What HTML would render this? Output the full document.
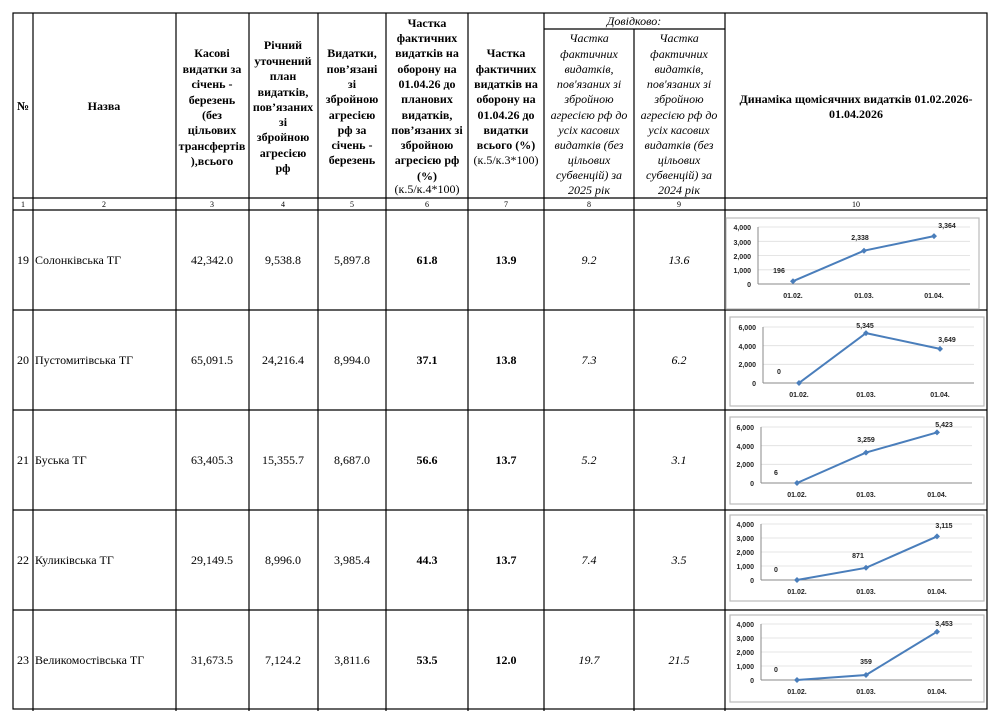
<!DOCTYPE html>
<html><head><meta charset="utf-8"><style>
html,body{margin:0;padding:0;background:#fff;width:998px;height:722px;overflow:hidden}
svg text{font-family:"Liberation Serif",serif;fill:#000}
.h{font-size:12px;font-weight:bold;text-anchor:middle}
.hn{font-size:12px;text-anchor:middle}
.hi{font-size:12px;font-style:italic;text-anchor:middle}
.n{font-size:8px;text-anchor:middle}
.d{font-size:12px;text-anchor:middle}
.db{font-size:12px;text-anchor:middle;font-weight:bold}
.di{font-size:12px;text-anchor:middle;font-style:italic}
.c text{font-family:"Liberation Sans",sans-serif;font-size:7px;font-weight:bold;fill:#222}
.c .ax{text-anchor:end}
.c .cx{text-anchor:middle}
</style></head><body>
<svg width="998" height="722" xmlns="http://www.w3.org/2000/svg">
<g stroke="#000" stroke-width="1.2" fill="none">
<rect x="13" y="13" width="974" height="696"/>
<line x1="33" y1="13" x2="33" y2="711"/><line x1="176" y1="13" x2="176" y2="711"/><line x1="249" y1="13" x2="249" y2="711"/><line x1="318" y1="13" x2="318" y2="711"/><line x1="386" y1="13" x2="386" y2="711"/><line x1="468" y1="13" x2="468" y2="711"/><line x1="544" y1="13" x2="544" y2="711"/><line x1="634" y1="29" x2="634" y2="711"/><line x1="725" y1="13" x2="725" y2="711"/>
<line x1="544" y1="29" x2="725" y2="29"/>
<line x1="13" y1="198" x2="987" y2="198"/><line x1="13" y1="210" x2="987" y2="210"/>
<line x1="13" y1="310" x2="987" y2="310"/><line x1="13" y1="410" x2="987" y2="410"/><line x1="13" y1="510" x2="987" y2="510"/><line x1="13" y1="610" x2="987" y2="610"/>
</g>
<text class="h" x="23" y="110">№</text><text class="h" x="104" y="110">Назва</text>
<g class="h"><text x="212" y="57">Касові</text><text x="212" y="73">видатки за</text><text x="212" y="88">січень -</text><text x="212" y="104">березень</text><text x="212" y="119">(без</text><text x="212" y="134">цільових</text><text x="212" y="150">трансфертів</text><text x="212" y="165">),всього</text></g>
<g class="h"><text x="283" y="49">Річний</text><text x="283" y="65">уточнений</text><text x="283" y="80">план</text><text x="283" y="96">видатків,</text><text x="283" y="111">пов’язаних</text><text x="283" y="126">зі</text><text x="283" y="141">збройною</text><text x="283" y="157">агресією</text><text x="283" y="172">рф</text></g>
<g class="h"><text x="352" y="57">Видатки,</text><text x="352" y="73">пов’язані</text><text x="352" y="88">зі</text><text x="352" y="103">збройною</text><text x="352" y="119">агресією</text><text x="352" y="134">рф за</text><text x="352" y="149">січень -</text><text x="352" y="164">березень</text></g>
<g class="h"><text x="427" y="27">Частка</text><text x="427" y="42">фактичних</text><text x="427" y="57">видатків на</text><text x="427" y="73">оборону на</text><text x="427" y="88">01.04.26 до</text><text x="427" y="103">планових</text><text x="427" y="119">видатків,</text><text x="427" y="134">пов’язаних зі</text><text x="427" y="149">збройною</text><text x="427" y="164">агресією рф</text><text x="427" y="180">(%)</text></g>
<text class="hn" x="427" y="193">(к.5/к.4*100)</text>
<g class="h"><text x="506" y="57">Частка</text><text x="506" y="73">фактичних</text><text x="506" y="88">видатків на</text><text x="506" y="103">оборону на</text><text x="506" y="119">01.04.26 до</text><text x="506" y="134">видатки</text><text x="506" y="149">всього (%)</text></g>
<text class="hn" x="506" y="164">(к.5/к.3*100)</text>
<text class="hi" x="634" y="25">Довідково:</text>
<g class="hi"><text x="589" y="42">Частка</text><text x="589" y="58">фактичних</text><text x="589" y="73">видатків,</text><text x="589" y="88">пов'язаних зі</text><text x="589" y="103">збройною</text><text x="589" y="119">агресією рф до</text><text x="589" y="134">усіх касових</text><text x="589" y="149">видатків (без</text><text x="589" y="164">цільових</text><text x="589" y="179">субвенцій) за</text><text x="589" y="194">2025 рік</text></g>
<g class="hi"><text x="679" y="42">Частка</text><text x="679" y="58">фактичних</text><text x="679" y="73">видатків,</text><text x="679" y="88">пов'язаних зі</text><text x="679" y="103">збройною</text><text x="679" y="119">агресією рф до</text><text x="679" y="134">усіх касових</text><text x="679" y="149">видатків (без</text><text x="679" y="164">цільових</text><text x="679" y="179">субвенцій) за</text><text x="679" y="194">2024 рік</text></g>
<text class="h" x="856" y="103">Динаміка щомісячних видатків 01.02.2026-</text><text class="h" x="856" y="118">01.04.2026</text>
<g class="n"><text x="23" y="207">1</text><text x="104" y="207">2</text><text x="212" y="207">3</text><text x="283" y="207">4</text><text x="352" y="207">5</text><text x="427" y="207">6</text><text x="506" y="207">7</text><text x="589" y="207">8</text><text x="679" y="207">9</text><text x="856" y="207">10</text></g>

<g><text class="d" x="23" y="264">19</text><text x="35" y="264" style="font-size:12px">Солонківська ТГ</text><text class="d" x="212" y="264">42,342.0</text><text class="d" x="283" y="264">9,538.8</text><text class="d" x="352" y="264">5,897.8</text><text class="db" x="427" y="264">61.8</text><text class="db" x="506" y="264">13.9</text><text class="di" x="589" y="264">9.2</text><text class="di" x="679" y="264">13.6</text></g>
<g><text class="d" x="23" y="364">20</text><text x="35" y="364" style="font-size:12px">Пустомитівська ТГ</text><text class="d" x="212" y="364">65,091.5</text><text class="d" x="283" y="364">24,216.4</text><text class="d" x="352" y="364">8,994.0</text><text class="db" x="427" y="364">37.1</text><text class="db" x="506" y="364">13.8</text><text class="di" x="589" y="364">7.3</text><text class="di" x="679" y="364">6.2</text></g>
<g><text class="d" x="23" y="464">21</text><text x="35" y="464" style="font-size:12px">Буська ТГ</text><text class="d" x="212" y="464">63,405.3</text><text class="d" x="283" y="464">15,355.7</text><text class="d" x="352" y="464">8,687.0</text><text class="db" x="427" y="464">56.6</text><text class="db" x="506" y="464">13.7</text><text class="di" x="589" y="464">5.2</text><text class="di" x="679" y="464">3.1</text></g>
<g><text class="d" x="23" y="564">22</text><text x="35" y="564" style="font-size:12px">Куликівська ТГ</text><text class="d" x="212" y="564">29,149.5</text><text class="d" x="283" y="564">8,996.0</text><text class="d" x="352" y="564">3,985.4</text><text class="db" x="427" y="564">44.3</text><text class="db" x="506" y="564">13.7</text><text class="di" x="589" y="564">7.4</text><text class="di" x="679" y="564">3.5</text></g>
<g><text class="d" x="23" y="664">23</text><text x="35" y="664" style="font-size:12px">Великомостівська ТГ</text><text class="d" x="212" y="664">31,673.5</text><text class="d" x="283" y="664">7,124.2</text><text class="d" x="352" y="664">3,811.6</text><text class="db" x="427" y="664">53.5</text><text class="db" x="506" y="664">12.0</text><text class="di" x="589" y="664">19.7</text><text class="di" x="679" y="664">21.5</text></g>

<!-- Chart 1 -->
<g class="c">
<rect x="726" y="218" width="253" height="91" fill="none" stroke="#bbb" stroke-width="1.2"/>
<g stroke="#ddd" stroke-width="0.8"><line x1="758" y1="227" x2="970" y2="227"/><line x1="758" y1="241.3" x2="970" y2="241.3"/><line x1="758" y1="255.5" x2="970" y2="255.5"/><line x1="758" y1="269.8" x2="970" y2="269.8"/></g>
<line x1="758" y1="227" x2="758" y2="284" stroke="#888"/><line x1="758" y1="284" x2="970" y2="284" stroke="#888"/>
<text class="ax" x="751" y="230">4,000</text><text class="ax" x="751" y="245">3,000</text><text class="ax" x="751" y="259">2,000</text><text class="ax" x="751" y="273">1,000</text><text class="ax" x="751" y="287">0</text>
<polyline points="793,281.2 864,250.7 934,236.1" fill="none" stroke="#4a7ebb" stroke-width="2"/>
<g fill="#4a7ebb"><path d="M793,278.2l3,3-3,3-3-3z"/><path d="M864,247.7l3,3-3,3-3-3z"/><path d="M934,233.1l3,3-3,3-3-3z"/></g>
<text class="cx" x="779" y="273">196</text><text class="cx" x="860" y="240">2,338</text><text class="cx" x="947" y="228">3,364</text>
<text class="cx" x="793" y="298">01.02.</text><text class="cx" x="864" y="298">01.03.</text><text class="cx" x="934" y="298">01.04.</text>
</g>
<!-- Chart 2 -->
<g class="c">
<rect x="730" y="317" width="254" height="89" fill="none" stroke="#bbb" stroke-width="1.2"/>
<g stroke="#ddd" stroke-width="0.8"><line x1="763" y1="327" x2="974" y2="327"/><line x1="763" y1="345.7" x2="974" y2="345.7"/><line x1="763" y1="364.3" x2="974" y2="364.3"/></g>
<line x1="763" y1="327" x2="763" y2="383" stroke="#888"/><line x1="763" y1="383" x2="974" y2="383" stroke="#888"/>
<text class="ax" x="756" y="330">6,000</text><text class="ax" x="756" y="349">4,000</text><text class="ax" x="756" y="367">2,000</text><text class="ax" x="756" y="386">0</text>
<polyline points="799,383 866,333.1 940,348.9" fill="none" stroke="#4a7ebb" stroke-width="2"/>
<g fill="#4a7ebb"><path d="M799,380l3,3-3,3-3-3z"/><path d="M866,330.1l3,3-3,3-3-3z"/><path d="M940,345.9l3,3-3,3-3-3z"/></g>
<text class="cx" x="779" y="374">0</text><text class="cx" x="865" y="328">5,345</text><text class="cx" x="947" y="342">3,649</text>
<text class="cx" x="799" y="397">01.02.</text><text class="cx" x="866" y="397">01.03.</text><text class="cx" x="940" y="397">01.04.</text>
</g>
<!-- Chart 3 -->
<g class="c">
<rect x="730" y="417" width="254" height="87" fill="none" stroke="#bbb" stroke-width="1.2"/>
<g stroke="#ddd" stroke-width="0.8"><line x1="761" y1="427" x2="972" y2="427"/><line x1="761" y1="445.7" x2="972" y2="445.7"/><line x1="761" y1="464.3" x2="972" y2="464.3"/></g>
<line x1="761" y1="427" x2="761" y2="483" stroke="#888"/><line x1="761" y1="483" x2="972" y2="483" stroke="#888"/>
<text class="ax" x="754" y="430">6,000</text><text class="ax" x="754" y="449">4,000</text><text class="ax" x="754" y="467">2,000</text><text class="ax" x="754" y="486">0</text>
<polyline points="797,483 866,452.6 937,432.4" fill="none" stroke="#4a7ebb" stroke-width="2"/>
<g fill="#4a7ebb"><path d="M797,480l3,3-3,3-3-3z"/><path d="M866,449.6l3,3-3,3-3-3z"/><path d="M937,429.4l3,3-3,3-3-3z"/></g>
<text class="cx" x="776" y="475">6</text><text class="cx" x="866" y="442">3,259</text><text class="cx" x="944" y="427">5,423</text>
<text class="cx" x="797" y="497">01.02.</text><text class="cx" x="866" y="497">01.03.</text><text class="cx" x="937" y="497">01.04.</text>
</g>
<!-- Chart 4 -->
<g class="c">
<rect x="730" y="515" width="254" height="86" fill="none" stroke="#bbb" stroke-width="1.2"/>
<g stroke="#ddd" stroke-width="0.8"><line x1="761" y1="524" x2="972" y2="524"/><line x1="761" y1="538" x2="972" y2="538"/><line x1="761" y1="552" x2="972" y2="552"/><line x1="761" y1="566" x2="972" y2="566"/></g>
<line x1="761" y1="524" x2="761" y2="580" stroke="#888"/><line x1="761" y1="580" x2="972" y2="580" stroke="#888"/>
<text class="ax" x="754" y="527">4,000</text><text class="ax" x="754" y="541">3,000</text><text class="ax" x="754" y="555">2,000</text><text class="ax" x="754" y="569">1,000</text><text class="ax" x="754" y="583">0</text>
<polyline points="797,580 866,567.8 937,536.4" fill="none" stroke="#4a7ebb" stroke-width="2"/>
<g fill="#4a7ebb"><path d="M797,577l3,3-3,3-3-3z"/><path d="M866,564.8l3,3-3,3-3-3z"/><path d="M937,533.4l3,3-3,3-3-3z"/></g>
<text class="cx" x="776" y="572">0</text><text class="cx" x="858" y="558">871</text><text class="cx" x="944" y="528">3,115</text>
<text class="cx" x="797" y="594">01.02.</text><text class="cx" x="866" y="594">01.03.</text><text class="cx" x="937" y="594">01.04.</text>
</g>
<!-- Chart 5 -->
<g class="c">
<rect x="730" y="615" width="254" height="87" fill="none" stroke="#bbb" stroke-width="1.2"/>
<g stroke="#ddd" stroke-width="0.8"><line x1="761" y1="624" x2="972" y2="624"/><line x1="761" y1="638" x2="972" y2="638"/><line x1="761" y1="652" x2="972" y2="652"/><line x1="761" y1="666" x2="972" y2="666"/></g>
<line x1="761" y1="624" x2="761" y2="680" stroke="#888"/><line x1="761" y1="680" x2="972" y2="680" stroke="#888"/>
<text class="ax" x="754" y="627">4,000</text><text class="ax" x="754" y="641">3,000</text><text class="ax" x="754" y="655">2,000</text><text class="ax" x="754" y="669">1,000</text><text class="ax" x="754" y="683">0</text>
<polyline points="797,680 866,675 937,631.7" fill="none" stroke="#4a7ebb" stroke-width="2"/>
<g fill="#4a7ebb"><path d="M797,677l3,3-3,3-3-3z"/><path d="M866,672l3,3-3,3-3-3z"/><path d="M937,628.7l3,3-3,3-3-3z"/></g>
<text class="cx" x="776" y="672">0</text><text class="cx" x="866" y="664">359</text><text class="cx" x="944" y="626">3,453</text>
<text class="cx" x="797" y="694">01.02.</text><text class="cx" x="866" y="694">01.03.</text><text class="cx" x="937" y="694">01.04.</text>
</g>
</svg>
</body></html>
